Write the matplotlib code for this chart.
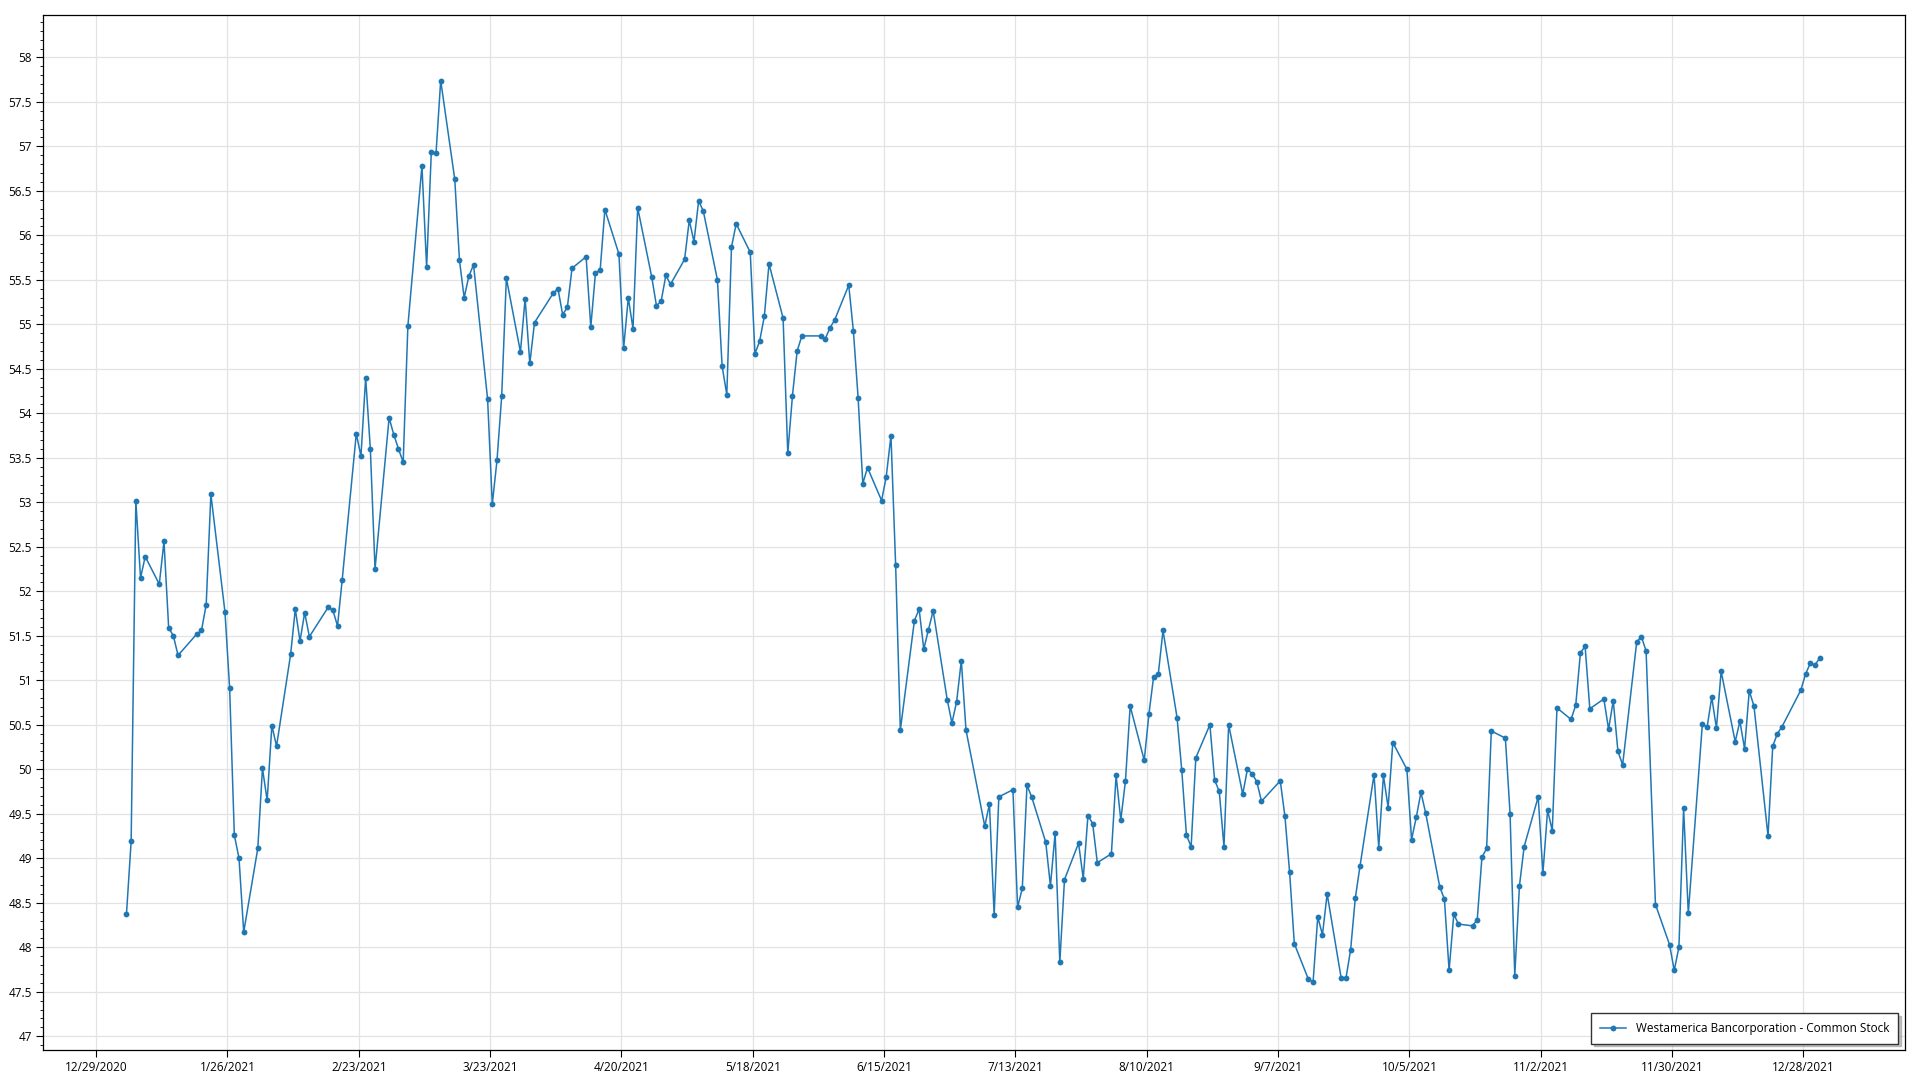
import matplotlib
matplotlib.use("Agg")
import matplotlib.pyplot as plt
import matplotlib.dates as mdates
from matplotlib.ticker import MultipleLocator, FixedLocator, FuncFormatter
import pandas as pd
import numpy as np

plt.rcParams['font.family'] = ['Open Sans', 'DejaVu Sans']

series_name = "Westamerica Bancorporation - Common Stock"

holidays_2021 = ["2021-01-18", "2021-02-15", "2021-04-02", "2021-05-31",
                 "2021-07-05", "2021-09-06", "2021-11-25", "2021-12-24"]

jan = [48.37, 49.19, 53.02, 52.15, 52.39, 52.08, 52.56, 51.59, 51.50, 51.28,
       51.52, 51.56, 51.85, 53.09, 51.77, 50.91, 49.26, 49.00, 48.17]
feb = [49.11, 50.01, 49.65, 50.49, 50.26, 51.29, 51.80, 51.44, 51.76, 51.49,
       51.82, 51.79, 51.61, 52.13, 53.77, 53.52, 54.40, 53.60, 52.25]
mar = [53.95, 53.76, 53.60, 53.45, 54.98, 56.78, 55.64, 56.94, 56.92, 57.74,
       56.63, 55.72, 55.30, 55.54, 55.67, 54.16, 52.98, 53.47, 54.19, 55.52,
       54.69, 55.29, 54.56]
apr = [55.02, 55.35, 55.40, 55.11, 55.19, 55.63, 55.76, 54.97, 55.58, 55.61,
       56.29, 55.79, 54.73, 55.30, 54.95, 56.31, 55.53, 55.21, 55.26, 55.55,
       55.45]
may = [55.73, 56.17, 55.93, 56.39, 56.27, 55.50, 54.53, 54.21, 55.87, 56.13,
       55.81, 54.67, 54.81, 55.09, 55.68, 55.07, 53.55, 54.20, 54.70, 54.87]
jun = [54.87, 54.84, 54.96, 55.05, 55.44, 54.92, 54.17, 53.21, 53.39, 53.02,
       53.29, 53.75, 52.29, 50.44, 51.67, 51.80, 51.35, 51.57, 51.78, 50.78,
       50.52, 50.76]
jul = [51.22, 50.44, 49.36, 49.61, 48.36, 49.69, 49.77, 48.45, 48.66, 49.82,
       49.69, 49.18, 48.69, 49.28, 47.83, 48.76, 49.17, 48.77, 49.48, 49.39,
       48.95]
aug = [49.05, 49.93, 49.43, 49.87, 50.71, 50.10, 50.62, 51.04, 51.07, 51.56,
       50.58, 49.99, 49.26, 49.13, 50.13, 50.50, 49.88, 49.75, 49.13, 50.50,
       49.72, 50.00]
sep = [49.95, 49.86, 49.64, 49.87, 49.47, 48.84, 48.04, 47.64, 47.61, 48.34,
       48.14, 48.60, 47.65, 47.65, 47.97, 48.55, 48.91, 49.94, 49.12, 49.93,
       49.57]
octo = [50.30, 50.00, 49.21, 49.46, 49.74, 49.51, 48.68, 48.54, 47.74, 48.37,
        48.26, 48.24, 48.31, 49.01, 49.11, 50.43, 50.35, 49.50, 47.68, 48.69,
        49.13]
nov = [49.69, 48.83, 49.54, 49.31, 50.69, 50.56, 50.72, 51.31, 51.38, 50.68,
       50.79, 50.45, 50.77, 50.20, 50.05, 51.43, 51.49, 51.33, 48.48, 48.03,
       47.74]
dec = [48.00, 49.56, 48.38, 50.51, 50.47, 50.81, 50.46, 51.10, 50.31, 50.54,
       50.23, 50.88, 50.71, 49.25, 50.26, 50.40, 50.48, 50.89, 51.07, 51.19,
       51.17, 51.25]

x_tick_dates = ["2020-12-29", "2021-01-26", "2021-02-23", "2021-03-23",
                "2021-04-20", "2021-05-18", "2021-06-15", "2021-07-13",
                "2021-08-10", "2021-09-07", "2021-10-05", "2021-11-02",
                "2021-11-30", "2021-12-28"]

prices = jan + feb + mar + apr + may + jun + jul + aug + sep + octo + nov + dec
bdays = pd.bdate_range("2021-01-04", "2021-12-31")
bdays = bdays[~bdays.isin(pd.to_datetime(holidays_2021))]
dates = bdays + pd.Timedelta(hours=11)
assert len(dates) == len(prices), (len(dates), len(prices))

fig = plt.figure(figsize=(19.2, 10.8), dpi=100)
ax = fig.add_axes([0.0224, 0.0282, 0.9698, 0.9582])

color = '#1f77b4'
ax.plot(dates, prices, color=color, linewidth=1.1, marker='o', markersize=4.2,
        markeredgewidth=0, label=series_name, zorder=3)

ax.set_xlim(pd.Timestamp("2020-12-17 16:00"), pd.Timestamp("2022-01-18 16:00"))
ax.set_ylim(46.85, 58.48)

ax.yaxis.set_major_locator(MultipleLocator(0.5))
ax.yaxis.set_minor_locator(MultipleLocator(0.1))
ax.yaxis.set_major_formatter(FuncFormatter(lambda v, p: f"{v:g}"))

tick_nums = mdates.date2num(pd.to_datetime(x_tick_dates))
ax.xaxis.set_major_locator(FixedLocator(tick_nums))
ax.xaxis.set_major_formatter(FuncFormatter(
    lambda v, p: (lambda d: f"{d.month}/{d.day}/{d.year}")(mdates.num2date(v))))

ax.grid(True, which='major', color='#e3e3e3', linewidth=0.9, zorder=0)
ax.set_axisbelow(True)

ax.tick_params(axis='both', which='major', direction='out', length=5, width=0.8,
               labelsize=8.5, colors='black', pad=3)
ax.tick_params(axis='y', which='minor', direction='out', length=2.5, width=0.6)
for s in ax.spines.values():
    s.set_color('black')
    s.set_linewidth(0.9)

leg = ax.legend(loc='lower right', fontsize=8.5, frameon=True, fancybox=False,
                shadow={'color': '#9a9a9a', 'alpha': 0.6, 'ox': 2, 'oy': -2},
                borderpad=0.75, handlelength=2.2, borderaxespad=0,
                bbox_to_anchor=(0.9962, 0.0058))
leg.get_frame().set_edgecolor('#333333')
leg.get_frame().set_linewidth(1.0)
leg.get_frame().set_alpha(1.0)

fig.savefig("out.png", dpi=100)
